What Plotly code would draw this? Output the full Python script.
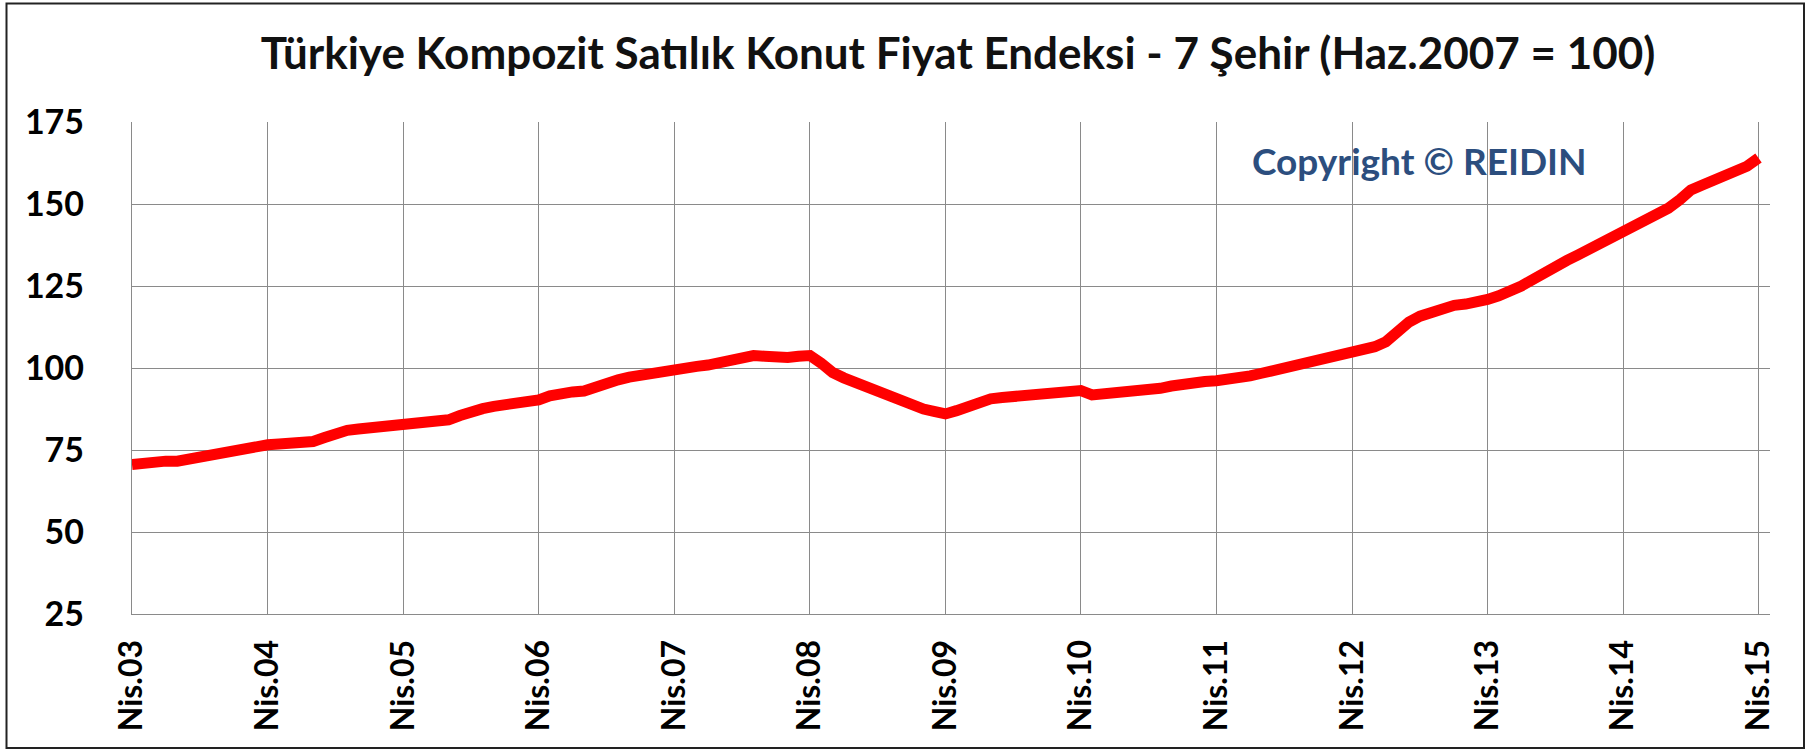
import pandas as pd
import plotly.graph_objects as go

# Monthly index values, April..March for each year (Haz.2007 = 100)
y2003 = [70.6, 71.2, 71.5, 71.6, 71.6, 72.3, 73.0, 73.6, 74.3, 75.0, 75.6, 76.1]
y2004 = [76.6, 76.8, 76.9, 77.0, 77.6, 78.8, 80.2, 81.0, 81.4, 81.7, 82.0, 82.4]
y2005 = [83.0, 83.5, 83.7, 83.8, 84.2, 85.5, 86.8, 87.6, 88.3, 88.8, 89.2, 89.7]
y2006 = [90.3, 91.5, 92.4, 92.7, 93.0, 94.4, 95.6, 96.4, 97.2, 97.9, 98.5, 99.2]
y2007 = [99.9, 100.2, 100.5, 100.9, 101.6, 102.6, 103.6, 103.8, 103.6, 103.2, 103.2, 103.6]
y2008 = [103.8, 101.5, 98.6, 97.0, 95.6, 94.3, 92.8, 91.0, 89.6, 88.8, 87.5, 86.8]
y2009 = [86.0, 87.0, 88.3, 89.8, 90.6, 91.0, 91.4, 91.6, 91.8, 92.0, 92.4, 92.8]
y2010 = [93.1, 91.8, 92.0, 92.3, 92.7, 93.0, 93.4, 93.8, 94.5, 95.2, 95.6, 95.9]
y2011 = [96.1, 96.4, 96.8, 97.6, 98.4, 99.2, 99.9, 100.6, 101.3, 102.0, 102.8, 103.6]
y2012 = [104.4, 105.4, 106.5, 108.0, 111.0, 114.0, 115.8, 117.0, 118.2, 119.1, 119.5, 120.0]
y2013 = [120.9, 122.0, 123.3, 125.0, 127.0, 129.2, 131.0, 132.8, 134.5, 136.3, 137.8, 139.3]
y2014 = [140.8, 142.6, 144.6, 146.5, 148.7, 151.3, 154.3, 155.8, 157.2, 158.3, 159.4, 161.5]
y2015 = [164.0]

values = (y2003 + y2004 + y2005 + y2006 + y2007 + y2008 + y2009 + y2010
          + y2011 + y2012 + y2013 + y2014 + y2015)
months = pd.date_range("2003-04-01", periods=len(values), freq="MS")

tick_labels = ["Nis.03", "Nis.04", "Nis.05", "Nis.06", "Nis.07", "Nis.08", "Nis.09",
               "Nis.10", "Nis.11", "Nis.12", "Nis.13", "Nis.14", "Nis.15"]
tick_dates = pd.date_range("2003-04-01", periods=len(tick_labels), freq="12MS")
y_ticks = [25, 50, 75, 100, 125, 150, 175]

title_text = "Türkiye Kompozit Satılık Konut Fiyat Endeksi - 7 Şehir (Haz.2007 = 100)"
copyright_text = "Copyright © REIDIN"

W, H = 1810, 751
L, R, T, B = 132, 40, 122, 137
pw, ph = W - L - R, H - T - B

def px_x(p):
    return (p - L) / pw

def px_y(p):
    return (H - B - p) / ph

fig = go.Figure()
fig.add_trace(go.Scatter(
    x=months, y=values, mode="lines",
    line=dict(color="#FF0000", width=11),
    hoverinfo="x+y", showlegend=False,
))

grid = "#8a8a8a"
fig.update_layout(
    width=W, height=H,
    margin=dict(l=L, r=R, t=T, b=B, autoexpand=False),
    paper_bgcolor="white", plot_bgcolor="white",
    font=dict(family="Lato, 'Open Sans', sans-serif", color="black"),
    title=dict(text=title_text, x=958 / W, xref="container", xanchor="center",
               y=1 - 54 / H, yref="container", yanchor="middle",
               font=dict(size=44, weight="bold", color="#111111")),
    xaxis=dict(
        type="date", range=["2003-04-01", "2015-05-02"],
        tickvals=tick_dates, ticktext=tick_labels, tickangle=-90,
        showgrid=True, gridcolor=grid, gridwidth=1.3,
        showline=True, linecolor=grid, linewidth=1.3,
        ticks="", ticklabelstandoff=12,
        tickfont=dict(size=32, weight="bold", color="black"),
    ),
    yaxis=dict(
        range=[25, 175], tickvals=y_ticks,
        showgrid=True, gridcolor=grid, gridwidth=1.3,
        showline=True, linecolor=grid, linewidth=1.3,
        zeroline=False, ticks="", ticklabelstandoff=40,
        tickfont=dict(size=34, weight="bold", color="black"),
    ),
    shapes=[
        dict(type="rect", xref="paper", yref="paper",
             x0=px_x(1192), x1=px_x(1648), y0=px_y(197), y1=px_y(123.5),
             fillcolor="white", line=dict(width=0), layer="between"),
        dict(type="rect", xref="paper", yref="paper",
             x0=px_x(6.5), x1=px_x(1804), y0=px_y(748), y1=px_y(3.5),
             fillcolor="rgba(0,0,0,0)", line=dict(color="#222222", width=2),
             layer="above"),
    ],
    annotations=[
        dict(text=copyright_text, xref="paper", yref="paper",
             x=px_x(1419), y=px_y(161), xanchor="center", yanchor="middle",
             showarrow=False,
             font=dict(size=37, weight="bold", color="#2C4E7E")),
    ],
)

fig.write_html("out.html", config={"displayModeBar": False},
               post_script="document.body.style.margin='0';document.body.style.overflow='hidden';")
